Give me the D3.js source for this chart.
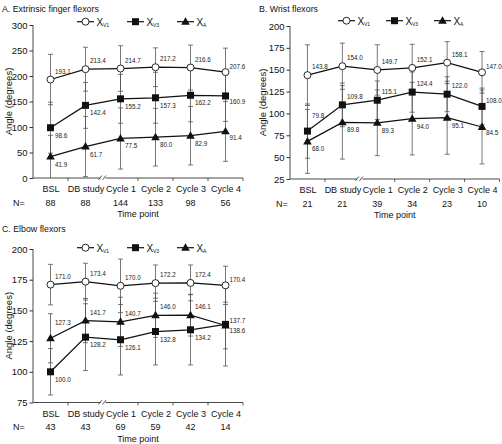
<!DOCTYPE html>
<html><head><meta charset="utf-8">
<script src="https://cdn.jsdelivr.net/npm/d3@7"></script>
<style>body{margin:0;background:#fff}svg{display:block;font-family:"Liberation Sans",Arial,sans-serif}</style>
</head><body>
<svg id="chart" width="502" height="444"></svg>
<script>
// ---------- data ----------
const categories = ["BSL", "DB study", "Cycle 1", "Cycle 2", "Cycle 3", "Cycle 4"];
const seriesNames = ["V1", "V3", "A"];

// Panel A: Extrinsic finger flexors
const nA = [88, 88, 144, 133, 98, 56];
const aV1 = [193.1, 213.4, 214.7, 217.2, 216.6, 207.6];
const aV3 = [98.6, 142.4, 155.2, 157.3, 162.2, 160.9];
const aA  = [41.9, 61.7, 77.5, 80.0, 82.9, 91.4];
const aV1sd = [49.4, 43, 44.6, 38, 44, 47];
const aV3sd = [50, 45, 48, 50, 52, 50];
const aAsd  = [41.9, 59, 60, 56.5, 57.4, 58.7];
const ticksA = [0, 50, 100, 150, 200, 250, 300];

// Panel B: Wrist flexors
const nB = [21, 21, 39, 34, 23, 10];
const bV1 = [143.8, 154.0, 149.7, 152.1, 158.1, 147.0];
const bV3 = [79.8, 109.8, 115.1, 124.4, 122.0, 108.0];
const bA  = [68.0, 89.8, 89.3, 94.0, 95.1, 84.5];
const bV1sd = [34.7, 26.4, 28.8, 27, 24, 23.8];
const bV3sd = [31, 25, 22, 23, 20, 21];
const bAsd  = [36.5, 42, 37.6, 41.5, 41.8, 42.3];
const ticksB = [25, 50, 75, 100, 125, 150, 175, 200];

// Panel C: Elbow flexors
const nC = [43, 43, 69, 59, 42, 14];
const cV1 = [171.0, 173.4, 170.0, 172.2, 172.4, 170.4];
const cV3 = [100.0, 128.2, 126.1, 132.8, 134.2, 138.6];
const cA  = [127.3, 141.7, 140.7, 146.0, 146.1, 137.7];
const cV1sd = [16.5, 15, 21.8, 14.8, 14.6, 15.6];
const cV3sd = [18.9, 27.2, 28.7, 27.2, 28.6, 33.9];
const cAsd  = [20, 18, 20, 18, 17, 19];
const ticksC = [75, 100, 125, 150, 175, 200];

// ---------- layout / style ----------
const panels = [
  {title: "A. Extrinsic finger flexors", n: nA, means: [aV1, aV3, aA], sds: [aV1sd, aV3sd, aAsd],
   ticks: ticksA, domain: [0, 300], x0: 33, x1: 243, yb: 178, yt: 25, tx: 2, ty: 12,
   legX: [77, 127, 177], legY: 21.7, nX: 13, yLabX: 9,
   place: [["a","a","a","a","a","a"], ["b","b","b","b","b","b"], ["b","b","b","b","b","b"]]},
  {title: "B. Wrist flexors", n: nB, means: [bV1, bV3, bA], sds: [bV1sd, bV3sd, bAsd],
   ticks: ticksB, domain: [25, 200], x0: 290, x1: 499.5, yb: 179, yt: 26, tx: 259, ty: 12,
   legX: [338, 386, 434], legY: 20.7, nX: 276, yLabX: 263,
   place: [["a","a","a","a","a","a"], ["A","a","a","a","a","a"], ["b","b","b","b","b","b"]]},
  {title: "C. Elbow flexors", n: nC, means: [cV1, cV3, cA], sds: [cV1sd, cV3sd, cAsd],
   ticks: ticksC, domain: [75, 200], x0: 33, x1: 243, yb: 402.5, yt: 249, tx: 2, ty: 232,
   legX: [77, 127, 177], legY: 247.7, nX: 13, yLabX: 9,
   place: [["a","a","a","a","a","a"], ["b","b","b","b","b","b"], ["A","a","a","a","a","a"]]}
];

const svg = d3.select("#chart");
const ink = "#111";
const barCol = "#555";

function marker(g, type, cx, cy) {
  if (type === 0) {
    g.append("circle").attr("cx", cx).attr("cy", cy).attr("r", 3.5)
      .attr("fill", "#fff").attr("stroke", ink).attr("stroke-width", 0.9);
  } else if (type === 1) {
    g.append("rect").attr("x", cx - 3.5).attr("y", cy - 3.5).attr("width", 7).attr("height", 7)
      .attr("fill", ink);
  } else {
    g.append("path").attr("d", d3.symbol(d3.symbolTriangle, 32)())
      .attr("transform", `translate(${cx},${cy + 0.5})`).attr("fill", ink);
  }
}

panels.forEach(p => {
  const g = svg.append("g");
  const x = d3.scalePoint().domain(categories).range([p.x0, p.x1]).padding(0.5);
  const y = d3.scaleLinear().domain(p.domain).range([p.yb, p.yt]);
  const step = x.step();

  // title
  g.append("text").attr("x", p.tx).attr("y", p.ty).attr("font-size", 8.8).attr("fill", ink).text(p.title);

  // y axis
  const ya = g.append("g").attr("transform", `translate(${p.x0},0)`)
    .call(d3.axisLeft(y).tickValues(p.ticks).tickSize(3.5).tickPadding(2).tickFormat(d3.format("d")));
  ya.select(".domain").attr("stroke", "#333").attr("stroke-width", 0.9).attr("d", `M0,${p.yb}V${p.yt}`);
  ya.selectAll(".tick line").attr("stroke", "#333");
  ya.selectAll(".tick text").attr("font-size", 9.5).attr("fill", ink).attr("font-family", "Liberation Sans, Arial, sans-serif");

  // y label
  g.append("text").attr("transform", `translate(${p.yLabX},${(p.yb + p.yt) / 2}) rotate(-90)`)
    .attr("text-anchor", "middle").attr("dy", "0.35em").attr("font-size", 9.5).attr("fill", ink)
    .text("Angle (degrees)");

  // x axis labels
  const xa = g.append("g").attr("transform", `translate(0,${p.yb})`)
    .call(d3.axisBottom(x).tickSize(0).tickPadding(8));
  xa.select(".domain").remove();
  xa.selectAll(".tick text").attr("font-size", 9).attr("fill", ink).attr("font-family", "Liberation Sans, Arial, sans-serif");

  // axis line + boundary ticks
  g.append("line").attr("x1", p.x0).attr("x2", p.x1).attr("y1", p.yb).attr("y2", p.yb)
    .attr("stroke", "#333").attr("stroke-width", 0.9);
  for (let i = 1; i <= categories.length; i++) {
    if (i === 2) continue;
    const bx = p.x0 + i * step;
    g.append("line").attr("x1", bx).attr("x2", bx).attr("y1", p.yb).attr("y2", p.yb + 3)
      .attr("stroke", "#333").attr("stroke-width", 0.8);
  }
  // axis break
  const bx = x(categories[1]) + step / 2;
  g.append("rect").attr("x", bx - 2.5).attr("y", p.yb - 2).attr("width", 5).attr("height", 4).attr("fill", "#fff");
  [-3, 1].forEach(o => {
    g.append("line").attr("x1", bx + o - 1.5).attr("y1", p.yb + 2).attr("x2", bx + o + 2).attr("y2", p.yb - 2.5)
      .attr("stroke", "#333").attr("stroke-width", 0.8);
  });

  // N row
  g.append("text").attr("x", p.nX).attr("y", p.yb + 27.5).attr("font-size", 9).attr("fill", ink).text("N=");
  categories.forEach((c, i) => {
    g.append("text").attr("x", x(c)).attr("y", p.yb + 27.5).attr("text-anchor", "middle")
      .attr("font-size", 9).attr("fill", ink).text(p.n[i]);
  });
  g.append("text").attr("x", (p.x0 + p.x1) / 2).attr("y", p.yb + 39).attr("text-anchor", "middle")
    .attr("font-size", 9).attr("fill", ink).text("Time point");

  // error bars
  p.means.forEach((m, s) => {
    m.forEach((v, i) => {
      const lo = Math.max(p.domain[0], v - p.sds[s][i]);
      const hi = v + p.sds[s][i];
      const cx = x(categories[i]);
      g.append("line").attr("x1", cx).attr("x2", cx).attr("y1", y(lo)).attr("y2", y(hi))
        .attr("stroke", barCol).attr("stroke-width", 0.8);
      [lo, hi].forEach(e => {
        if (e === p.domain[0]) return;
        g.append("line").attr("x1", cx - 2.5).attr("x2", cx + 2.5).attr("y1", y(e)).attr("y2", y(e))
          .attr("stroke", barCol).attr("stroke-width", 0.8);
      });
    });
  });

  // lines
  const line = d3.line().x((d, i) => x(categories[i])).y(d => y(d));
  p.means.forEach(m => {
    g.append("path").attr("d", line(m)).attr("fill", "none").attr("stroke", ink).attr("stroke-width", 1.25);
  });

  // markers + labels
  p.means.forEach((m, s) => {
    m.forEach((v, i) => {
      const cx = x(categories[i]), cy = y(v);
      marker(g, s, cx, cy);
      const pl = p.place[s][i];
      const last = i === categories.length - 1;
      const dx = last ? 4 : 4.5;
      const dy = pl === "a" ? (last ? -3 : -6) : pl === "A" ? -13 : (last ? 8.5 : 10);
      g.append("text").attr("x", cx + dx).attr("y", cy + dy).attr("font-size", 6.3).attr("fill", "#222")
        .text(v.toFixed(1));
    });
  });

  // legend
  p.legX.forEach((lx, s) => {
    g.append("line").attr("x1", lx).attr("x2", lx + 17).attr("y1", p.legY).attr("y2", p.legY)
      .attr("stroke", ink).attr("stroke-width", 1.2);
    marker(g, s, lx + 8.5, p.legY);
    g.append("text").attr("x", lx + 19.5).attr("y", p.legY + 3.8).attr("font-size", 10).attr("fill", ink).text("X");
    g.append("text").attr("x", lx + 26).attr("y", p.legY + 5.5).attr("font-size", 5).attr("fill", ink).text(seriesNames[s]);
  });
});
</script>
</body></html>
